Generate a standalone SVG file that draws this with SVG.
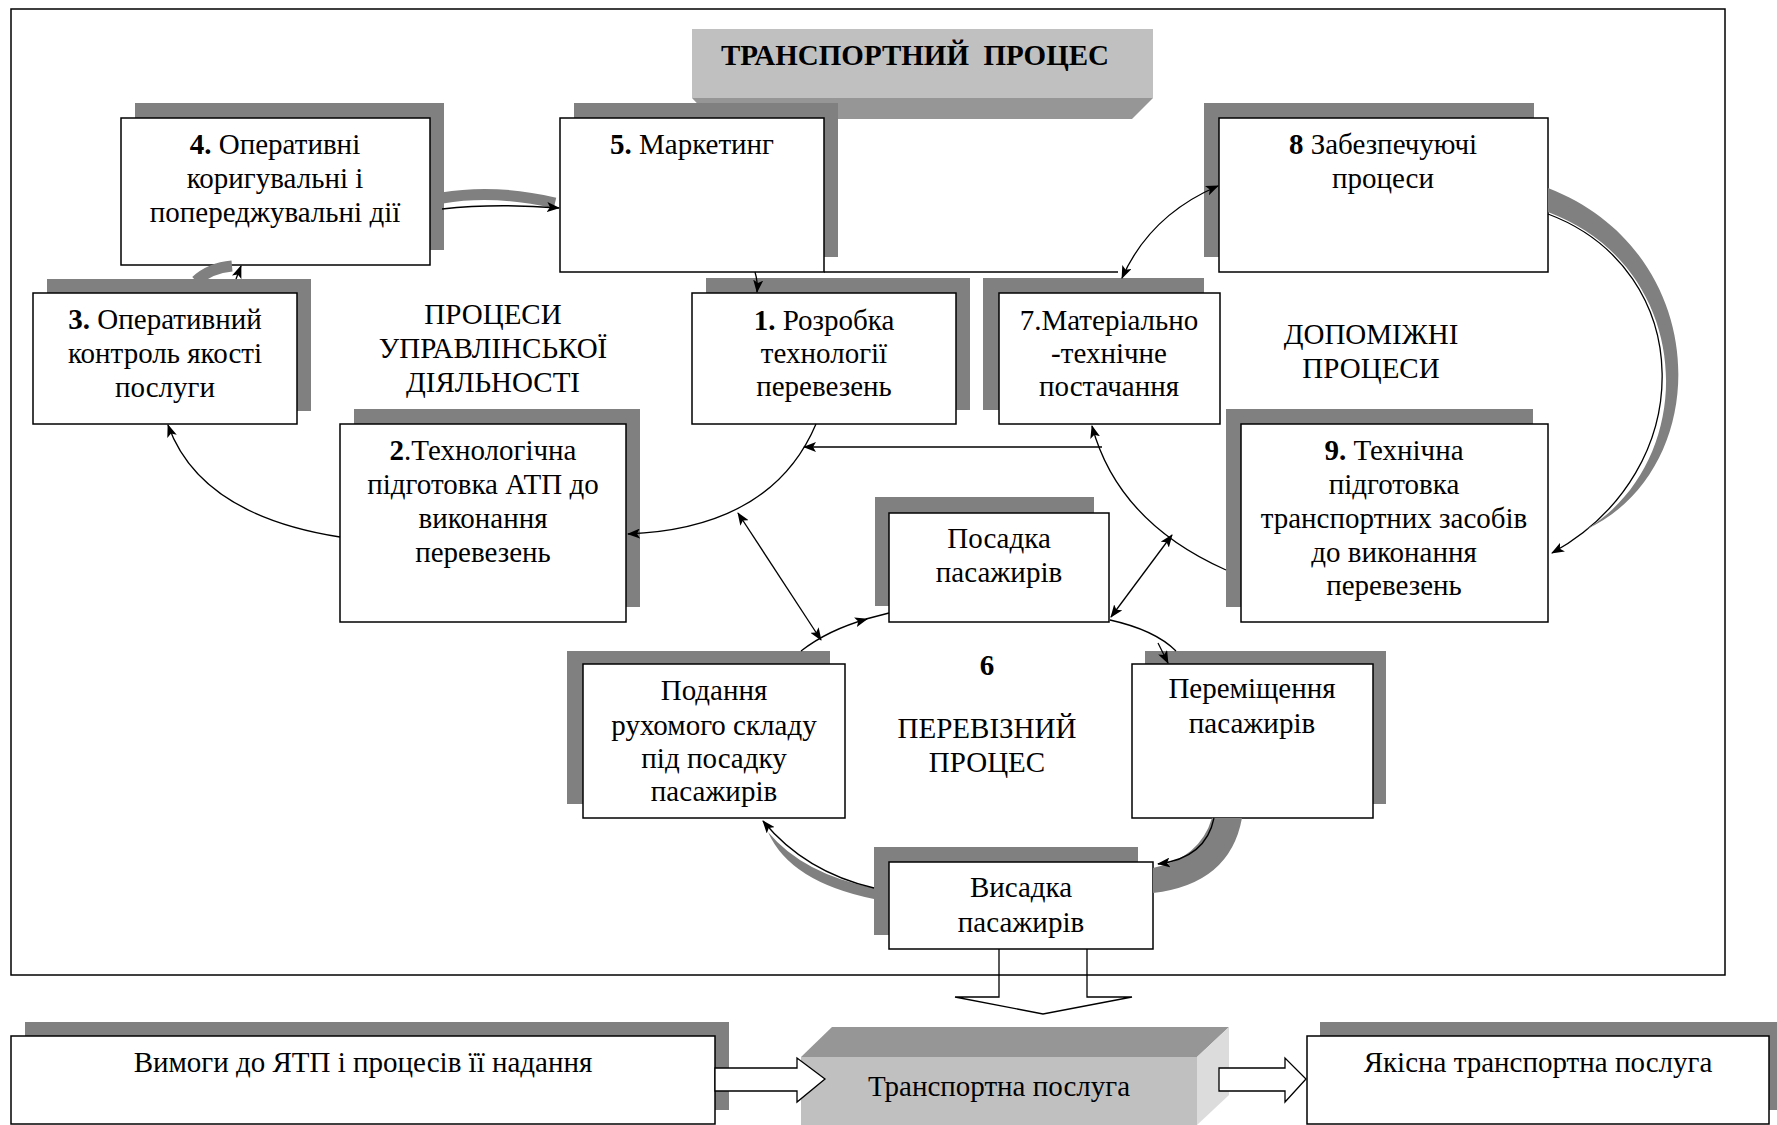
<svg xmlns="http://www.w3.org/2000/svg" width="1777" height="1125" viewBox="0 0 1777 1125">
<style>
.sh{fill:#808080}
.bx{fill:#fff;stroke:#000;stroke-width:1.5}
.t{font-family:"Liberation Serif","Times New Roman",serif;font-size:29px;text-anchor:middle;fill:#000}
.b{font-weight:bold}
.c{fill:none;stroke:#000;stroke-width:1.3}
.band{fill:#808080}
.gs{fill:none;stroke:#808080}
.ha{fill:#fff;stroke:#000;stroke-width:1.3}
</style>
<defs>
<marker id="ah" markerUnits="userSpaceOnUse" markerWidth="13" markerHeight="10" refX="12" refY="5" orient="auto-start-reverse">
<path d="M0,0 L13,5 L0,10 L3,5 z" fill="#000"/>
</marker>
</defs>
<rect x="11" y="9" width="1714" height="966" fill="none" stroke="#000" stroke-width="1.5"/>

<g id="node-title">
<rect x="692" y="29" width="461" height="69" fill="#c0c0c0"/>
<polygon points="692,98 1153,98 1132,119 712,119" fill="#969696"/>
<text class="t b" x="915" y="65" font-size="28">ТРАНСПОРТНИЙ&#160; ПРОЦЕС</text>
</g>

<g id="node-4">
<rect class="sh" x="135" y="103" width="309" height="147"/>
<rect class="bx" x="121" y="118" width="309" height="147"/>
<text class="t" x="275" y="154"><tspan class="b">4.</tspan> Оперативні</text>
<text class="t" x="275" y="188">коригувальні і</text>
<text class="t" x="275" y="222">попереджувальні дії</text>
</g>

<g id="node-5">
<rect class="sh" x="574" y="103" width="264" height="154"/>
<rect class="bx" x="560" y="118" width="264" height="154"/>
<text class="t" x="692" y="154"><tspan class="b">5.</tspan> Маркетинг</text>
</g>

<g id="node-8">
<rect class="sh" x="1204" y="103" width="330" height="154"/>
<rect class="bx" x="1219" y="118" width="329" height="154"/>
<text class="t" x="1383" y="154"><tspan class="b">8</tspan> Забезпечуючі</text>
<text class="t" x="1383" y="188">процеси</text>
</g>

<g id="node-3">
<rect class="sh" x="47" y="279" width="264" height="132"/>
<rect class="bx" x="33" y="293" width="264" height="131"/>
<text class="t" x="165" y="329"><tspan class="b">3.</tspan> Оперативний</text>
<text class="t" x="165" y="363">контроль якості</text>
<text class="t" x="165" y="397">послуги</text>
</g>

<g id="label-management">
<text class="t" x="493" y="324">ПРОЦЕСИ</text>
<text class="t" x="493" y="358">УПРАВЛІНСЬКОЇ</text>
<text class="t" x="493" y="392">ДІЯЛЬНОСТІ</text>
</g>

<g id="node-1">
<rect class="sh" x="706" y="278" width="264" height="132"/>
<rect class="bx" x="692" y="293" width="264" height="131"/>
<text class="t" x="824" y="330"><tspan class="b">1.</tspan> Розробка</text>
<text class="t" x="824" y="363">технології</text>
<text class="t" x="824" y="396">перевезень</text>
</g>

<g id="node-7">
<rect class="sh" x="983" y="278" width="221" height="132"/>
<rect class="bx" x="999" y="293" width="221" height="131"/>
<text class="t" x="1109" y="330">7.Матеріально</text>
<text class="t" x="1109" y="363">-технічне</text>
<text class="t" x="1109" y="396">постачання</text>
</g>

<g id="label-auxiliary">
<text class="t" x="1371" y="344">ДОПОМІЖНІ</text>
<text class="t" x="1371" y="378">ПРОЦЕСИ</text>
</g>

<g id="node-2">
<rect class="sh" x="354" y="409" width="286" height="198"/>
<rect class="bx" x="340" y="424" width="286" height="198"/>
<text class="t" x="483" y="460"><tspan class="b">2</tspan>.Технологічна</text>
<text class="t" x="483" y="494">підготовка АТП до</text>
<text class="t" x="483" y="528">виконання</text>
<text class="t" x="483" y="562">перевезень</text>
</g>

<g id="node-9">
<rect class="sh" x="1226" y="409" width="307" height="198"/>
<rect class="bx" x="1241" y="424" width="307" height="198"/>
<text class="t" x="1394" y="460"><tspan class="b">9.</tspan> Технічна</text>
<text class="t" x="1394" y="494">підготовка</text>
<text class="t" x="1394" y="528">транспортних засобів</text>
<text class="t" x="1394" y="562">до виконання</text>
<text class="t" x="1394" y="595">перевезень</text>
</g>

<g id="node-posadka">
<rect class="sh" x="875" y="497" width="219" height="109"/>
<rect class="bx" x="889" y="513" width="220" height="109"/>
<text class="t" x="999" y="548">Посадка</text>
<text class="t" x="999" y="582">пасажирів</text>
</g>

<g id="label-carrier">
<text class="t b" x="987" y="675">6</text>
<text class="t" x="987" y="738">ПЕРЕВІЗНИЙ</text>
<text class="t" x="987" y="772">ПРОЦЕС</text>
</g>

<g id="node-podannya">
<rect class="sh" x="567" y="651" width="263" height="153"/>
<rect class="bx" x="583" y="664" width="262" height="154"/>
<text class="t" x="714" y="700">Подання</text>
<text class="t" x="714" y="735">рухомого складу</text>
<text class="t" x="714" y="768">під посадку</text>
<text class="t" x="714" y="801">пасажирів</text>
</g>

<g id="node-peremishchennya">
<rect class="sh" x="1145" y="651" width="241" height="153"/>
<rect class="bx" x="1132" y="664" width="241" height="154"/>
<text class="t" x="1252" y="698">Переміщення</text>
<text class="t" x="1252" y="733">пасажирів</text>
</g>

<g id="node-vysadka">
<rect class="sh" x="874" y="847" width="264" height="88"/>
<rect class="bx" x="889" y="862" width="264" height="87"/>
<text class="t" x="1021" y="897">Висадка</text>
<text class="t" x="1021" y="932">пасажирів</text>
</g>

<g id="node-vymohy">
<rect class="sh" x="25" y="1022" width="704" height="88"/>
<rect class="bx" x="11" y="1036" width="704" height="88"/>
<text class="t" x="363" y="1072">Вимоги до ЯТП і процесів її надання</text>
</g>

<g id="node-posluha">
<rect x="801" y="1057" width="396" height="68" fill="#c0c0c0"/>
<polygon points="801,1057 832,1027 1229,1027 1197,1057" fill="#969696"/>
<polygon points="1197,1057 1229,1027 1229,1095 1197,1125" fill="#dcdcdc"/>
<text class="t" x="999" y="1096">Транспортна послуга</text>
</g>

<g id="node-yakisna">
<rect class="sh" x="1320" y="1022" width="457" height="88"/>
<rect class="bx" x="1307" y="1036" width="462" height="88"/>
<text class="t" x="1538" y="1072">Якісна транспортна послуга</text>
</g>

<g id="connectors">
<!-- 4 -> 5 -->
<path class="gs" d="M442,198 Q495,189 555,203" stroke-width="11"/>
<path class="c" d="M442,209 Q495,203 559,208" marker-end="url(#ah)"/>
<!-- 3 -> 4 -->
<path class="gs" d="M196,281 Q210,268 232,266" stroke-width="11"/>
<path class="c" d="M236,279 L241,266" marker-end="url(#ah)"/>
<!-- 5 -> 1 -->
<path class="c" d="M755,272 Q758,282 757,292" marker-end="url(#ah)"/>
<!-- line along 5 to 7 -->
<path class="c" d="M824,272 L1118,272"/>
<!-- 8 <-> 7 -->
<path class="c" d="M1122,278 Q1150,215 1218,186" marker-start="url(#ah)" marker-end="url(#ah)"/>
<!-- 8 -> 9 big arc -->
<path class="c" d="M1548,214 C1697,270 1702,470 1552,553" marker-end="url(#ah)"/>
<path class="band" d="M1548,188 C1714,252 1716,470 1585,530 C1700,462 1697,268 1548,212 Z"/>
<!-- 9 -> 7 -->
<path class="c" d="M1226,570 Q1118,522 1092,426" marker-end="url(#ah)"/>
<!-- horizontal to 1->2 curve -->
<path class="c" d="M1102,447 L804,447" marker-end="url(#ah)"/>
<!-- 1 -> 2 -->
<path class="c" d="M816,424 Q772,528 628,534" marker-end="url(#ah)"/>
<!-- 2 -> 3 -->
<path class="c" d="M340,537 Q200,515 168,425" marker-end="url(#ah)"/>
<!-- 2 <-> podannya area -->
<path class="c" d="M738,513 L821,640" marker-start="url(#ah)" marker-end="url(#ah)"/>
<!-- podannya -> posadka -->
<path class="c" d="M801,651 Q828,630 867,619" marker-end="url(#ah)"/>
<path class="c" d="M866,619 L889,613"/>
<!-- posadka <-> 9 curve -->
<path class="c" d="M1111,617 L1172,535" marker-start="url(#ah)" marker-end="url(#ah)"/>
<!-- posadka -> peremishchennya -->
<path class="c" d="M1110,620 Q1155,630 1176,651"/>
<path class="c" d="M1158,643 L1168,663" marker-end="url(#ah)"/>
<!-- peremishchennya -> vysadka -->
<path class="band" d="M1242,818 Q1230,884 1153,893 L1153,868 Q1200,858 1212,818 Z"/>
<path class="c" d="M1214,818 Q1206,858 1158,864" marker-end="url(#ah)"/>
<!-- vysadka -> podannya -->
<path class="band" d="M874,888 Q803,874 768,832 Q790,882 874,899 Z"/>
<path class="c" d="M874,888 Q805,872 763,821" marker-end="url(#ah)"/>
<!-- vysadka -> posluha (down hollow arrow) -->
<path class="c" d="M999,949 L999,997 L955,997 L1043,1014 L1132,997 L1087,997 L1087,949"/>
<!-- vymohy -> posluha -->
<polygon class="ha" points="715,1068 797,1068 797,1058 825,1079 797,1102 797,1091 715,1091"/>
<!-- posluha -> yakisna -->
<polygon class="ha" points="1219,1068 1285,1068 1285,1058 1306,1079 1285,1102 1285,1091 1219,1091"/>
</g>
</svg>
